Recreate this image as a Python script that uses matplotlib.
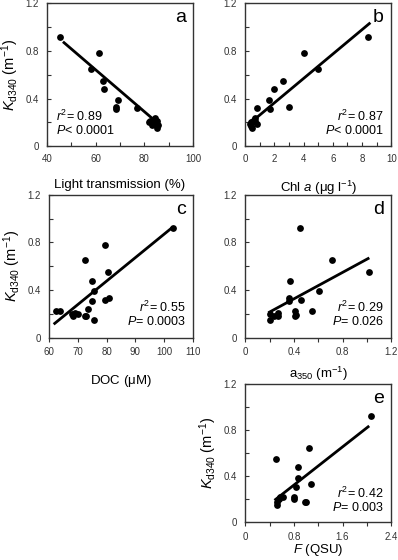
import matplotlib.pyplot as plt
from matplotlib.ticker import MultipleLocator

plt.rcParams['font.family'] = ['Liberation Sans', 'DejaVu Sans']
plt.rcParams['mathtext.fontset'] = 'custom'
plt.rcParams['mathtext.rm'] = 'Liberation Sans'
plt.rcParams['mathtext.it'] = 'Liberation Sans:italic'

# Kd340 (m-1) against each predictor
light_x = [45.5, 61.5, 58, 63, 63.5, 69, 68.5, 68.5, 77, 82, 83, 84, 84.5, 85, 85.5, 85, 83.5, 82.5, 84]
light_y = [0.92, 0.78, 0.65, 0.55, 0.48, 0.39, 0.33, 0.31, 0.32, 0.20, 0.18, 0.22, 0.24, 0.21, 0.18, 0.15, 0.20, 0.21, 0.19]

chl_x = [8.4, 4.0, 5.0, 2.6, 2.0, 1.6, 0.8, 1.7, 3.0, 0.3, 0.4, 0.5, 0.6, 0.7, 0.8, 0.7, 0.4, 0.5]
chl_y = [0.92, 0.78, 0.65, 0.55, 0.48, 0.39, 0.32, 0.31, 0.33, 0.19, 0.17, 0.15, 0.22, 0.21, 0.19, 0.24, 0.20, 0.20]

doc_x = [103, 79.5, 72.5, 80.5, 75, 75.5, 81, 79.5, 75, 73.5, 62.5, 64, 68, 69, 70, 68.5, 72.5, 73, 75.5]
doc_y = [0.92, 0.78, 0.65, 0.55, 0.48, 0.39, 0.33, 0.32, 0.31, 0.24, 0.22, 0.22, 0.20, 0.21, 0.20, 0.18, 0.18, 0.18, 0.15]

a350_x = [0.45, 0.71, 1.02, 0.37, 0.61, 0.36, 0.36, 0.46, 0.55, 0.41, 0.42, 0.41, 0.20, 0.20, 0.27, 0.27, 0.24]
a350_y = [0.92, 0.65, 0.55, 0.48, 0.39, 0.33, 0.31, 0.32, 0.22, 0.22, 0.19, 0.18, 0.20, 0.15, 0.21, 0.18, 0.18]

f_x = [2.07, 1.05, 0.50, 0.87, 0.86, 1.08, 0.84, 0.80, 0.80, 0.62, 0.55, 0.52, 0.52, 0.98, 1.00, 0.57]
f_y = [0.92, 0.65, 0.55, 0.48, 0.39, 0.33, 0.31, 0.22, 0.20, 0.22, 0.20, 0.18, 0.15, 0.18, 0.18, 0.22]

# regression line end points
fit_a = ([47, 84], [0.87, 0.22])
fit_b = ([0.3, 8.5], [0.19, 1.03])
fit_c = ([62, 102.5], [0.12, 0.92])
fit_d = ([0.2, 1.01], [0.215, 0.665])
fit_e = ([0.5, 2.02], [0.2, 0.83])

stats = {'a': ('0.89', '< 0.0001'), 'b': ('0.87', '< 0.0001'), 'c': ('0.55', '= 0.0003'),
         'd': ('0.29', '= 0.026'), 'e': ('0.42', '= 0.003')}

fig = plt.figure(figsize=(3.98, 5.6), dpi=100)
w, h = 0.367, 0.255
axa = fig.add_axes([0.118, 0.739, w, h])
axb = fig.add_axes([0.616, 0.739, w, h])
axc = fig.add_axes([0.123, 0.397, w - 0.005, h])
axd = fig.add_axes([0.616, 0.397, w, h])
axe = fig.add_axes([0.616, 0.067, w, 0.247])

ylab = r'$K_{\mathrm{d340}}$ (m$^{-1}$)'

panels = [
    (axa, 'a', light_x, light_y, fit_a, (40, 100), 20, 10, 'Light transmission (%)', True, 'in', 'left', 10.5),
    (axb, 'b', chl_x, chl_y, fit_b, (0, 10), 2, 1, r'Chl $a$ ($\mathrm{\mu}$g l$^{-1}$)', False, 'in', 'right', 10.5),
    (axc, 'c', doc_x, doc_y, fit_c, (60, 110), 10, 10, r'DOC ($\mathrm{\mu}$M)', True, 'out', 'right', 11),
    (axd, 'd', a350_x, a350_y, fit_d, (0, 1.2), 0.4, 0.2, r'a$_{\mathit{350}}$ (m$^{-1}$)', False, 'out', 'right', 5),
    (axe, 'e', f_x, f_y, fit_e, (0, 2.4), 0.8, 0.4, r'$F$ (QSU)', True, 'out', 'right', 0),
]

for ax, letter, x, y, fit, xlim, xmaj, xmin, xlabel, showy, xdir, side, lpad in panels:
    ax.scatter(x, y, s=24, color='black', zorder=3, linewidths=0)
    ax.plot(fit[0], fit[1], color='black', lw=2, zorder=2)
    ax.set_xlim(*xlim)
    ax.set_ylim(0, 1.2)
    ax.xaxis.set_major_locator(MultipleLocator(xmaj))
    ax.xaxis.set_minor_locator(MultipleLocator(xmin))
    ax.yaxis.set_major_locator(MultipleLocator(0.4))
    ax.yaxis.set_minor_locator(MultipleLocator(0.2))
    ax.set_yticklabels(['0' if v == 0 else f'{v:.1f}' for v in ax.get_yticks()])
    xt = ax.get_xticks()
    ax.set_xticklabels(['0' if v == 0 else (f'{v:g}' if xmaj >= 1 else f'{v:.1f}') for v in xt])
    ax.set_xlim(*xlim)
    ax.set_ylim(0, 1.2)
    ax.tick_params(axis='y', which='both', direction='in', length=3, width=0.8,
                   labelsize=7, colors='#333333', pad=6)
    ax.tick_params(axis='x', which='both', direction=xdir, length=3, width=0.8,
                   labelsize=7, colors='#333333', pad=6 if xdir == 'in' else 4)
    for sp in ax.spines.values():
        sp.set_color('#333333')
        sp.set_linewidth(1.0)
    ax.set_xlabel(xlabel, fontsize=9.5, labelpad=lpad)
    if showy:
        ax.set_ylabel(ylab, fontsize=10.5, labelpad=3)
    ax.text(0.95, 0.96, letter, transform=ax.transAxes, ha='right', va='top', fontsize=14)
    r2, p = stats[letter]
    if side == 'left':
        tx, ha = 0.06, 'left'
    else:
        tx, ha = 0.95, 'right'
    ax.text(tx, 0.21, r'$r^2$= ' + r2, transform=ax.transAxes, ha=ha, va='center', fontsize=9)
    ax.text(tx, 0.11, r'$P$' + p, transform=ax.transAxes, ha=ha, va='center', fontsize=9)

fig.savefig('out.png', dpi=100)
